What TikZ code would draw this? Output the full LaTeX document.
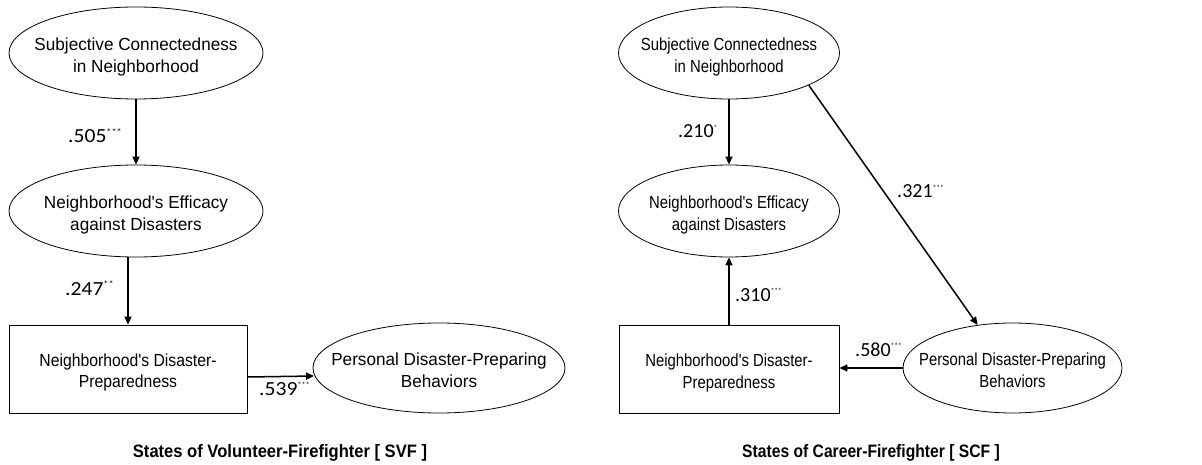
\documentclass[tikz,border=0pt]{standalone}
\usepackage{fontspec}
\setmainfont{Liberation Sans}
\newfontfamily\fA[FakeStretch=0.98]{Liberation Sans}
\newfontfamily\fB[FakeStretch=0.90]{Liberation Sans}
\newfontfamily\fC[FakeStretch=0.85]{Liberation Sans}
\newfontfamily\nL[FakeStretch=1.08]{Carlito}
\newfontfamily\nR{Carlito}
\newfontfamily\capL[FakeStretch=0.92]{Liberation Sans}
\newfontfamily\capR[FakeStretch=0.87]{Liberation Sans}
\usetikzlibrary{shapes.geometric,arrows.meta}
\newcommand\zt[1]{\makebox[0pt]{\smash{\raisebox{-8pt}{\begin{tabular}{@{}c@{}}#1\end{tabular}}}}}
\newcommand\sgA[1]{\raisebox{7.5pt}{\fontsize{9.5}{10}\selectfont #1}}
\newcommand\sgB[1]{\raisebox{7.5pt}{\fontsize{7.5}{8}\selectfont #1}}
\begin{document}
\begin{tikzpicture}[x=1pt,y=-1pt,
  ell/.style={draw=black, line width=0.8pt, ellipse, inner sep=0pt},
  boxn/.style={draw=black, line width=0.8pt, rectangle, inner sep=0pt},
  arr/.style={line width=1.5pt, -{Triangle[length=8pt,width=7pt]}},
  lab/.style={anchor=base west, inner sep=0pt},
  txtL/.style={font=\fA\fontsize{17.5}{22}\selectfont},
  txtLB/.style={font=\fB\fontsize{17.5}{21}\selectfont},
  txtR/.style={font=\fC\fontsize{17.5}{22}\selectfont},
  numL/.style={font=\nL\fontsize{20}{24}\selectfont},
  numR/.style={font=\nR\fontsize{20}{24}\selectfont}]
\useasboundingbox (0,0) rectangle (1202,465);
% ---------- left panel ----------
\node[ell, txtL, minimum width=254pt, minimum height=92pt] (L1) at (136,53) {\zt{Subjective Connectedness\\in Neighborhood}};
\node[ell, txtL, minimum width=254pt, minimum height=92pt] (L2) at (136,211) {\zt{Neighborhood's Efficacy\\against Disasters}};
\node[boxn, txtLB, minimum width=238pt, minimum height=88pt] (L3) at (128,369) {\zt{Neighborhood's Disaster-\\Preparedness}};
\node[ell, txtL, minimum width=252pt, minimum height=90pt] (L4) at (439,368) {\zt{Personal Disaster-Preparing\\Behaviors}};
\draw[arr] (L1.south) -- (L2.north);
\draw[arr] (L3.north |- L2.south) -- (L3.north);
\draw[arr] ([yshift=-8pt]L3.east) -- ([yshift=-8pt,xshift=1.5pt]L4.west);
\node[lab, numL] (l505) at (68,143) {.505\sgA{***}};
\node[lab, numL] (l247) at (65,295) {.247\sgA{**}};
\node[lab, numL] (l539) at (259,395) {.539\sgB{***}};
\node[font=\capL\bfseries\fontsize{18}{22}\selectfont] (capL) at (280,453) {States of Volunteer-Firefighter [ SVF ]};
% ---------- right panel ----------
\node[ell, txtR, minimum width=221pt, minimum height=92pt] (R1) at (729,53) {\zt{Subjective Connectedness\\in Neighborhood}};
\node[ell, txtR, minimum width=221pt, minimum height=92pt] (R2) at (729,211) {\zt{Neighborhood's Efficacy\\against Disasters}};
\node[boxn, txtR, minimum width=220pt, minimum height=88pt] (R3) at (729,369) {\zt{Neighborhood's Disaster-\\Preparedness}};
\node[ell, txtR, minimum width=219pt, minimum height=90pt] (R4) at (1012.5,368) {\zt{Personal Disaster-Preparing\\Behaviors}};
\draw[arr] (R1.south) -- (R2.north);
\draw[arr] (R3.north) -- (R3.north |- R2.south);
\draw[arr] (R1.-22) -- (R4.129);
\draw[arr] (R4.west) -- (R3.east |- R4.west);
\node[lab, numR] (l210) at (678,138) {.210\sgB{*}};
\node[lab, numR] (l321) at (897,198) {.321\sgB{***}};
\node[lab, numR] (l310) at (735,301) {.310\sgB{***}};
\node[lab, numR] (l580) at (855,356) {.580\sgB{***}};
\node[font=\capR\bfseries\fontsize{18}{22}\selectfont] (capR) at (871,453) {States of Career-Firefighter [ SCF ]};
\end{tikzpicture}
\end{document}
